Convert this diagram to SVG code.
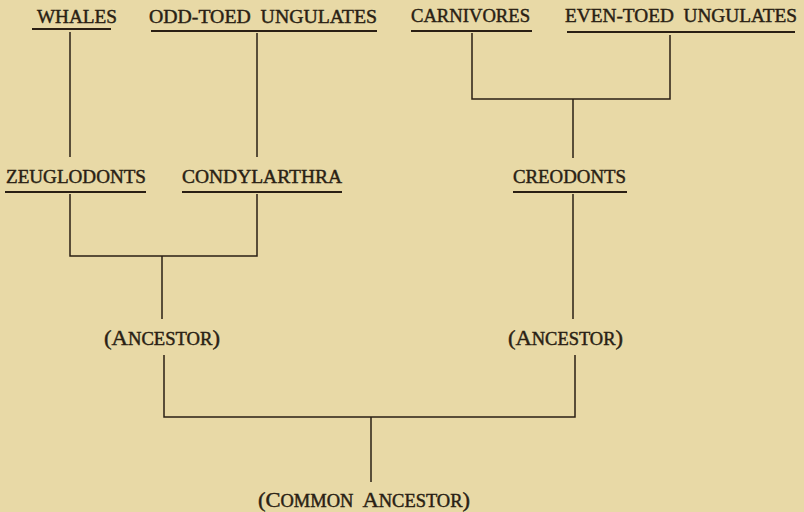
<svg xmlns="http://www.w3.org/2000/svg" width="804" height="512" viewBox="0 0 804 512">
<style>
.lbl{font-family:"Liberation Serif","Times New Roman",serif;font-size:19px;fill:#2a1f14;stroke:#2a1f14;stroke-width:0.45;white-space:pre}
.anc{font-family:"Liberation Serif","Times New Roman",serif;font-size:18px;fill:#2a1f14;stroke:#2a1f14;stroke-width:0.45;white-space:pre}
.big{font-size:22px}
.ul{stroke:#2a1f14;stroke-width:2;fill:none}
.ln{stroke:#2a1f14;stroke-width:1.5;fill:none}
</style>
<rect width="804" height="512" fill="#e8d9a6"/>
<g id="whales"><text class="lbl" x="37" y="23" textLength="80" lengthAdjust="spacingAndGlyphs">WHALES</text><line class="ul" x1="32" y1="29" x2="111" y2="29"/></g>
<g id="odd-toed"><text class="lbl" x="149" y="23" textLength="228" lengthAdjust="spacingAndGlyphs">ODD-TOED  UNGULATES</text><line class="ul" x1="151" y1="31" x2="377" y2="31"/></g>
<g id="carnivores"><text class="lbl" x="411" y="22" textLength="119" lengthAdjust="spacingAndGlyphs">CARNIVORES</text><line class="ul" x1="411" y1="31" x2="532" y2="31"/></g>
<g id="even-toed"><text class="lbl" x="565" y="22" textLength="232" lengthAdjust="spacingAndGlyphs">EVEN-TOED  UNGULATES</text><line class="ul" x1="567" y1="32" x2="795" y2="32"/></g>
<g id="zeuglodonts"><text class="lbl" x="6" y="183" textLength="140" lengthAdjust="spacingAndGlyphs">ZEUGLODONTS</text><line class="ul" x1="5" y1="192" x2="146" y2="192"/></g>
<g id="condylarthra"><text class="lbl" x="182" y="183" textLength="160" lengthAdjust="spacingAndGlyphs">CONDYLARTHRA</text><line class="ul" x1="182" y1="192" x2="342" y2="192"/></g>
<g id="creodonts"><text class="lbl" x="513" y="183" textLength="113" lengthAdjust="spacingAndGlyphs">CREODONTS</text><line class="ul" x1="513" y1="192" x2="627" y2="192"/></g>
<g id="ancestor-left"><text class="anc" x="104" y="345" textLength="116" lengthAdjust="spacingAndGlyphs"><tspan class="big">(A</tspan>NCESTOR<tspan class="big">)</tspan></text></g>
<g id="ancestor-right"><text class="anc" x="508" y="345" textLength="115" lengthAdjust="spacingAndGlyphs"><tspan class="big">(A</tspan>NCESTOR<tspan class="big">)</tspan></text></g>
<g id="common-ancestor"><text class="anc" x="258" y="507" textLength="212" lengthAdjust="spacingAndGlyphs"><tspan class="big">(C</tspan>OMMON  <tspan class="big">A</tspan>NCESTOR<tspan class="big">)</tspan></text></g>
<g id="connectors">
<line class="ln" x1="70" y1="32" x2="70" y2="157"/>
<line class="ln" x1="257" y1="33" x2="257" y2="157"/>
<path class="ln" d="M472 33 V99 H670 V35"/>
<line class="ln" x1="573" y1="99" x2="573" y2="158"/>
<path class="ln" d="M70 194 V256 H257 V194"/>
<line class="ln" x1="162" y1="256" x2="162" y2="319"/>
<line class="ln" x1="573" y1="194" x2="573" y2="319"/>
<path class="ln" d="M164 355 V417 H575 V355"/>
<line class="ln" x1="371" y1="417" x2="371" y2="482"/>
</g>
</svg>
